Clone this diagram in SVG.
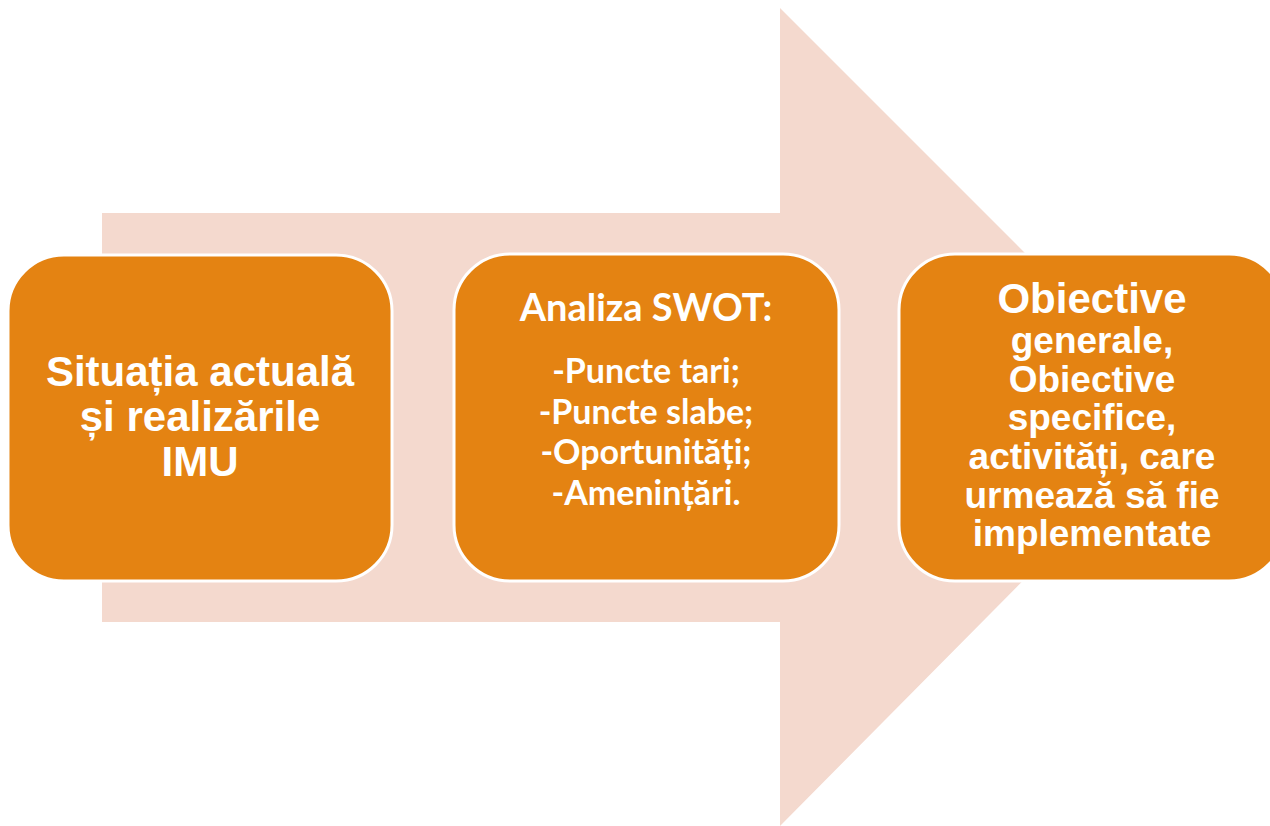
<svg xmlns="http://www.w3.org/2000/svg" width="1270" height="826" viewBox="0 0 1270 826">
<style>
.box{fill:#E48312;stroke:#FFFFFF;stroke-width:3}
.t1{font-family:"Liberation Sans",Arial,sans-serif;font-weight:bold;fill:#FFFFFF;text-anchor:middle}
.t2{font-family:Lato,"Open Sans",sans-serif;font-weight:bold;fill:#FFFFFF;text-anchor:middle}
</style>
<rect width="1270" height="826" fill="#FFFFFF"/>
<g id="arrow">
<polygon points="102,213 780,213 780,8 1187,415 780,826 780,622 102,622" fill="#F4D9CE"/>
</g>
<g id="connectors"></g>
<g id="node1">
<rect class="box" x="8" y="255" width="384" height="326" rx="56" ry="56"/>
<text class="t1" font-size="42"><tspan x="200" y="386">Situația actuală</tspan><tspan x="200" y="431">și realizările</tspan><tspan x="200" y="476">IMU</tspan></text>
</g>
<g id="node2">
<rect class="box" x="454" y="254" width="385" height="327" rx="56" ry="56"/>
<text class="t2" font-size="38"><tspan x="646" y="321">Analiza SWOT:</tspan></text>
<text class="t2" font-size="34"><tspan x="646" y="383">-Puncte tari;</tspan><tspan x="646" y="424">-Puncte slabe;</tspan><tspan x="646" y="464">-Oportunități;</tspan><tspan x="646" y="505">-Amenințări.</tspan></text>
</g>
<g id="node3">
<rect class="box" x="899" y="254" width="386" height="327" rx="56" ry="56"/>
<text class="t1" font-size="42"><tspan x="1092" y="313">Obiective</tspan></text>
<text class="t1" font-size="37"><tspan x="1092" y="353">generale,</tspan><tspan x="1092" y="392">Obiective</tspan><tspan x="1092" y="430">specifice,</tspan><tspan x="1092" y="469">activități, care</tspan><tspan x="1092" y="508">urmează să fie</tspan><tspan x="1092" y="546">implementate</tspan></text>
</g>
</svg>
